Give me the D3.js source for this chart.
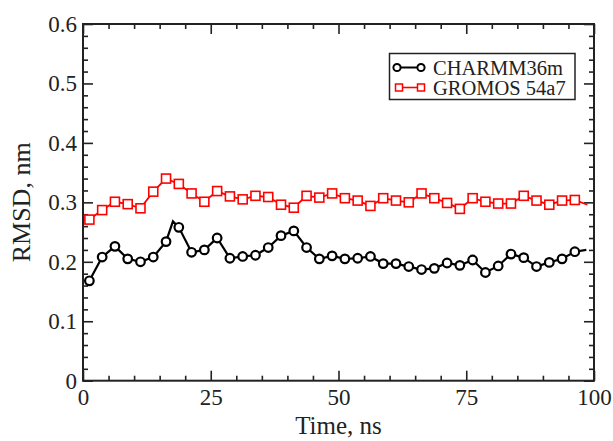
<!DOCTYPE html>
<html>
<head>
<meta charset="utf-8">
<script src="https://cdn.jsdelivr.net/npm/d3@7"></script>
<style>
  body { margin: 0; background: #fff; }
  svg { display: block; }
  svg text { font-family: "Liberation Serif", "Times New Roman", serif; fill: #222; }
</style>
</head>
<body>
<div id="chart"></div>
<script>
// marker times (ns), shared by both series
const markerTimes = [
  1.25, 3.75, 6.25, 8.75, 11.25, 13.75, 16.25, 18.75, 21.25, 23.75,
  26.25, 28.75, 31.25, 33.75, 36.25, 38.75, 41.25, 43.75, 46.25, 48.75,
  51.25, 53.75, 56.25, 58.75, 61.25, 63.75, 66.25, 68.75, 71.25, 73.75,
  76.25, 78.75, 81.25, 83.75, 86.25, 88.75, 91.25, 93.75, 96.25,
]

const charmmValues = [
  0.168, 0.208, 0.226, 0.205, 0.200, 0.208, 0.234, 0.258, 0.216, 0.220,
  0.240, 0.206, 0.209, 0.211, 0.224, 0.244, 0.252, 0.224, 0.205, 0.210,
  0.205, 0.206, 0.209, 0.197, 0.197, 0.192, 0.187, 0.189, 0.198, 0.194,
  0.203, 0.182, 0.193, 0.213, 0.207, 0.192, 0.199, 0.205, 0.217,
]

const gromosValues = [
  0.271, 0.287, 0.301, 0.297, 0.290, 0.318, 0.340, 0.331, 0.315, 0.301,
  0.319, 0.310, 0.305, 0.311, 0.309, 0.296, 0.291, 0.311, 0.308, 0.315,
  0.307, 0.303, 0.294, 0.307, 0.303, 0.300, 0.315, 0.307, 0.299, 0.289,
  0.307, 0.301, 0.298, 0.298, 0.311, 0.303, 0.296, 0.303, 0.304,
]

// line points between/after markers
const charmmExtraTimes = [17.6, 98.5]
const charmmExtraValues = [0.268, 0.220]
const gromosExtraTimes = [98.7]
const gromosExtraValues = [0.296]

const seriesNames = ['CHARMM36m', 'GROMOS 54a7']
const xMajorTicks = [0, 25, 50, 75, 100]
const yMajorTicks = [0, 0.1, 0.2, 0.3, 0.4, 0.5, 0.6]

const width = 613
const height = 441
const marginLeft = 83
const marginTop = 24
const plotRight = 594
const plotBottom = 380.7
const font = '"Liberation Serif", "Times New Roman", serif'
const tickFontSize = 23

const svg = d3
  .select('#chart')
  .append('svg')
  .attr('width', width)
  .attr('height', height)
  .attr('font-family', font)

const xScale = d3.scaleLinear().domain([0, 100]).range([marginLeft, plotRight])
const yScale = d3.scaleLinear().domain([0, 0.6]).range([plotBottom, marginTop])

const xMinor = d3.range(0, 101, 5).filter(v => v % 25 !== 0)
const yMinor = d3.range(0, 31, 1).map(v => v * 0.02).filter((v, i) => i % 5 !== 0)

function styleAxis(g) {
  g.attr('font-family', font).attr('font-size', tickFontSize)
  g.select('.domain').remove()
  g.selectAll('.tick line').attr('stroke', '#222').attr('stroke-width', 1.6)
  g.selectAll('.tick text')
    .attr('fill', '#222')
    .attr('font-family', font)
    .attr('font-size', tickFontSize)
}

// bottom
svg
  .append('g')
  .attr('transform', `translate(0,${plotBottom})`)
  .call(d3.axisBottom(xScale).tickValues(xMajorTicks).tickSize(-10).tickPadding(8).tickFormat(d3.format('d')))
  .call(styleAxis)
svg
  .append('g')
  .attr('transform', `translate(0,${plotBottom})`)
  .call(d3.axisBottom(xScale).tickValues(xMinor).tickSize(-5).tickFormat(''))
  .call(styleAxis)
// top
svg
  .append('g')
  .attr('transform', `translate(0,${marginTop})`)
  .call(d3.axisTop(xScale).tickValues(xMajorTicks).tickSize(-10).tickFormat(''))
  .call(styleAxis)
svg
  .append('g')
  .attr('transform', `translate(0,${marginTop})`)
  .call(d3.axisTop(xScale).tickValues(xMinor).tickSize(-5).tickFormat(''))
  .call(styleAxis)
// left
svg
  .append('g')
  .attr('transform', `translate(${marginLeft},0)`)
  .call(d3.axisLeft(yScale).tickValues(yMajorTicks).tickSize(-10).tickPadding(6).tickFormat(d => (d === 0 ? '0' : d3.format('.1f')(d))))
  .call(styleAxis)
svg
  .append('g')
  .attr('transform', `translate(${marginLeft},0)`)
  .call(d3.axisLeft(yScale).tickValues(yMinor).tickSize(-5).tickFormat(''))
  .call(styleAxis)
// right
svg
  .append('g')
  .attr('transform', `translate(${plotRight},0)`)
  .call(d3.axisRight(yScale).tickValues(yMajorTicks).tickSize(-10).tickFormat(''))
  .call(styleAxis)
svg
  .append('g')
  .attr('transform', `translate(${plotRight},0)`)
  .call(d3.axisRight(yScale).tickValues(yMinor).tickSize(-5).tickFormat(''))
  .call(styleAxis)

// frame
svg
  .append('rect')
  .attr('x', marginLeft)
  .attr('y', marginTop)
  .attr('width', plotRight - marginLeft)
  .attr('height', plotBottom - marginTop)
  .attr('fill', 'none')
  .attr('stroke', '#222')
  .attr('stroke-width', 2)

// axis titles
svg
  .append('text')
  .attr('x', (marginLeft + plotRight) / 2)
  .attr('y', 434)
  .attr('text-anchor', 'middle')
  .attr('font-size', 25)
  .text('Time, ns')

svg
  .append('text')
  .attr('transform', `translate(30,${(marginTop + plotBottom) / 2}) rotate(-90)`)
  .attr('text-anchor', 'middle')
  .attr('font-size', 26)
  .text('RMSD, nm')

const zipPts = (ts, vs) => ts.map((t, i) => ({ t, v: vs[i] }))
const charmmMarkers = zipPts(markerTimes, charmmValues)
const gromosMarkers = zipPts(markerTimes, gromosValues)
const charmmLine = charmmMarkers
  .concat(zipPts(charmmExtraTimes, charmmExtraValues))
  .sort((a, b) => a.t - b.t)
const gromosLine = gromosMarkers
  .concat(zipPts(gromosExtraTimes, gromosExtraValues))
  .sort((a, b) => a.t - b.t)

const line = d3
  .line()
  .x(d => xScale(d.t))
  .y(d => yScale(d.v))

const plot = svg.append('g')

// GROMOS
plot
  .append('path')
  .datum(gromosLine)
  .attr('d', line)
  .attr('fill', 'none')
  .attr('stroke', '#ff0000')
  .attr('stroke-width', 1.8)
plot
  .append('g')
  .selectAll('rect')
  .data(gromosMarkers)
  .join('rect')
  .attr('x', d => xScale(d.t) - 4.5)
  .attr('y', d => yScale(d.v) - 4.5)
  .attr('width', 9)
  .attr('height', 9)
  .attr('fill', '#fff')
  .attr('stroke', '#ff0000')
  .attr('stroke-width', 1.6)

// CHARMM
plot
  .append('path')
  .datum(charmmLine)
  .attr('d', line)
  .attr('fill', 'none')
  .attr('stroke', '#000')
  .attr('stroke-width', 2.2)
plot
  .append('g')
  .selectAll('circle')
  .data(charmmMarkers)
  .join('circle')
  .attr('cx', d => xScale(d.t))
  .attr('cy', d => yScale(d.v))
  .attr('r', 4.3)
  .attr('fill', '#fff')
  .attr('stroke', '#000')
  .attr('stroke-width', 2.2)

// legend
const legend = svg.append('g')
legend
  .append('rect')
  .attr('x', 389.5)
  .attr('y', 53.5)
  .attr('width', 185.5)
  .attr('height', 46)
  .attr('fill', '#fff')
  .attr('stroke', '#222')
  .attr('stroke-width', 1.5)

legend
  .append('line')
  .attr('x1', 397)
  .attr('x2', 421)
  .attr('y1', 67.5)
  .attr('y2', 67.5)
  .attr('stroke', '#000')
  .attr('stroke-width', 2)
legend
  .selectAll('circle')
  .data([397, 421])
  .join('circle')
  .attr('cx', d => d)
  .attr('cy', 67.5)
  .attr('r', 3.6)
  .attr('fill', '#fff')
  .attr('stroke', '#000')
  .attr('stroke-width', 2)

legend
  .append('line')
  .attr('x1', 399)
  .attr('x2', 421)
  .attr('y1', 87.5)
  .attr('y2', 87.5)
  .attr('stroke', '#ff0000')
  .attr('stroke-width', 1.6)
legend
  .selectAll('rect.sq')
  .data([399, 421])
  .join('rect')
  .attr('class', 'sq')
  .attr('x', d => d - 3.5)
  .attr('y', 84)
  .attr('width', 7)
  .attr('height', 7)
  .attr('fill', '#fff')
  .attr('stroke', '#ff0000')
  .attr('stroke-width', 1.5)

legend
  .selectAll('text')
  .data(seriesNames)
  .join('text')
  .attr('x', 433)
  .attr('y', (d, i) => 75 + i * 20)
  .attr('font-size', 20.5)
  .text(d => d)
</script>
</body>
</html>
